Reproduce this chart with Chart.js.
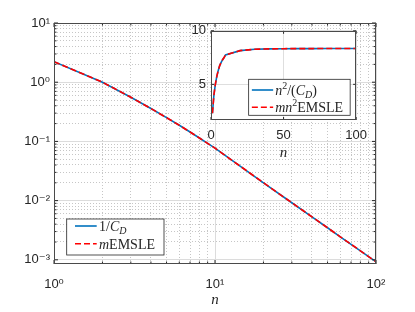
<!DOCTYPE html>
<html lang="en">
<head>
<meta charset="UTF-8">
<title>1/C_D vs mEMSLE</title>
<script src="https://cdn.jsdelivr.net/npm/chart.js"></script>
<style>
  body { margin: 0; background: #fff; }
  #wrap { position: relative; width: 415px; height: 312px; background: #fff; }
  #mainChart { position: absolute; left: 0; top: 0; }
  #insetChart { position: absolute; left: 180px; top: 18px; }
</style>
</head>
<body>
<div id="wrap">
  <canvas id="mainChart" width="415" height="312"></canvas>
  <canvas id="insetChart" width="195" height="147"></canvas>
</div>
<script>
  // n values used by both plots
  const nValues = [1, 2, 3, 4, 5, 6, 7, 8, 9, 10, 20, 30, 40, 50, 60, 70, 80, 90, 100];

  // main plot (log-log)
  const invCD   = [2.22, 1.0, 0.556, 0.359, 0.252, 0.1875, 0.144, 0.114, 0.0926, 0.077,
                   0.0200, 0.0092, 0.00533, 0.00348, 0.00245, 0.00183, 0.00142, 0.00113, 0.00093];
  const mEMSLE  = [2.22, 1.0, 0.556, 0.359, 0.252, 0.1875, 0.144, 0.114, 0.0926, 0.077,
                   0.0200, 0.0092, 0.00533, 0.00348, 0.00245, 0.00183, 0.00142, 0.00113, 0.00093];

  // inset (linear)
  const insetCD     = [2.3, 4.0, 5.0, 5.75, 6.3, 6.75, 7.05, 7.3, 7.5, 7.75,
                       8.15, 8.27, 8.31, 8.33, 8.34, 8.34, 8.35, 8.35, 8.35];
  const insetEMSLE  = [2.3, 4.0, 5.0, 5.75, 6.3, 6.75, 7.05, 7.3, 7.5, 7.75,
                       8.15, 8.27, 8.31, 8.33, 8.34, 8.34, 8.35, 8.35, 8.35];

  // ticks
  const xDecades = [0, 1, 2];
  const yDecades = [-3, -2, -1, 0, 1];
  const insetXTicks = [0, 50, 100];
  const insetYTicks = [5, 10];
  const supDigits = { '0': '⁰', '1': '¹', '2': '²', '3': '³', '-': '⁻' };

  const blue = '#0072BD';
  const red = '#FF0000';
  const axisColor = '#262626';
  const sansFont = "'Liberation Sans', 'DejaVu Sans', sans-serif";
  const serifFont = "'Liberation Serif', 'DejaVu Serif', serif";

  function logTicks(decades) {
    const out = [];
    decades.forEach((d, i) => {
      const last = i === decades.length - 1;
      for (let k = 1; k <= (last ? 1 : 9); k++) out.push(k * Math.pow(10, d));
    });
    return out;
  }

  function isDecade(v) {
    const e = Math.round(Math.log10(v));
    return Math.abs(v / Math.pow(10, e) - 1) < 1e-9;
  }

  function powLabel(v) {
    if (!isDecade(v)) return '';
    const e = String(Math.round(Math.log10(v)));
    return '10' + e.split('').map(c => supDigits[c]).join('');
  }

  function gridColor(c) {
    if (!c.tick) return '#dedede';
    return isDecade(c.tick.value) ? '#dcdcdc' : '#c6c6c6';
  }

  function gridDash(c) {
    if (!c.tick) return [];
    return isDecade(c.tick.value) ? [] : [1, 2];
  }

  // text with italic / super / subscript parts
  function drawRich(ctx, parts, x, y) {
    ctx.textBaseline = 'alphabetic';
    ctx.textAlign = 'left';
    ctx.fillStyle = axisColor;
    parts.forEach(p => {
      const small = p.s === 'sup' || p.s === 'sub';
      ctx.font = (p.i ? 'italic ' : '') + (small ? 10 : 14) + 'px ' + serifFont;
      let dy = 0;
      if (p.s === 'sup') dy = -6;
      if (p.s === 'sub') dy = 3;
      ctx.fillText(p.t, x, y + dy);
      x += ctx.measureText(p.t).width;
    });
  }

  function drawLegend(chart, box, rows) {
    const ctx = chart.ctx;
    ctx.save();
    ctx.fillStyle = '#fff';
    ctx.fillRect(box.x, box.y, box.w, box.h);
    ctx.strokeStyle = axisColor;
    ctx.lineWidth = 0.8;
    ctx.strokeRect(box.x, box.y, box.w, box.h);
    rows.forEach(r => {
      const ds = chart.data.datasets[r.ds];
      ctx.strokeStyle = ds.borderColor;
      ctx.lineWidth = ds.borderWidth;
      ctx.setLineDash(ds.borderDash || []);
      ctx.beginPath();
      ctx.moveTo(box.x + box.sx0, box.y + r.y);
      ctx.lineTo(box.x + box.sx1, box.y + r.y);
      ctx.stroke();
      ctx.setLineDash([]);
      drawRich(ctx, r.parts, box.x + box.tx, box.y + r.y + 5);
    });
    ctx.restore();
  }

  // box around plot area plus inward tick marks (matlab style)
  function drawBoxAndTicks(chart, majorLen, minorLen) {
    const ctx = chart.ctx;
    const a = chart.chartArea;
    const sx = chart.scales.x, sy = chart.scales.y;
    ctx.save();
    ctx.strokeStyle = axisColor;
    ctx.lineWidth = 1;
    ctx.beginPath();
    sx.ticks.forEach(t => {
      const px = sx.getPixelForValue(t.value);
      if (px < a.left - 0.5 || px > a.right + 0.5) return;
      const len = (sx.type !== 'logarithmic' || isDecade(t.value)) ? majorLen : minorLen;
      ctx.moveTo(px, a.bottom); ctx.lineTo(px, a.bottom - len);
      ctx.moveTo(px, a.top); ctx.lineTo(px, a.top + len);
    });
    sy.ticks.forEach(t => {
      const py = sy.getPixelForValue(t.value);
      if (py < a.top - 0.5 || py > a.bottom + 0.5) return;
      const len = (sy.type !== 'logarithmic' || isDecade(t.value)) ? majorLen : minorLen;
      ctx.moveTo(a.left, py); ctx.lineTo(a.left + len, py);
      ctx.moveTo(a.right, py); ctx.lineTo(a.right - len, py);
    });
    ctx.stroke();
    ctx.strokeStyle = '#4a4a4a';
    ctx.strokeRect(Math.round(a.left) + 0.5, Math.round(a.top) + 0.5,
                   Math.round(a.right - a.left) - 1, Math.round(a.bottom - a.top) - 1);
    ctx.restore();
  }

  function points(ys) {
    return nValues.map((n, i) => ({ x: n, y: ys[i] }));
  }

  const mainPlugin = {
    id: 'mainDecor',
    afterDraw(chart) {
      drawBoxAndTicks(chart, 4, 2.5);
      const a = chart.chartArea;
      drawLegend(chart, { x: a.left + 12.7, y: a.bottom - 45, w: 97.3, h: 36, sx0: 8.3, sx1: 30, tx: 32.3 }, [
        { ds: 0, y: 7, parts: [{ t: '1/' }, { t: 'C', i: true }, { t: 'D', i: true, s: 'sub' }] },
        { ds: 1, y: 24.7, parts: [{ t: 'm', i: true }, { t: 'EMSLE' }] }
      ]);
    }
  };

  const insetPlugin = {
    id: 'insetDecor',
    beforeDraw(chart) {
      const a = chart.chartArea;
      chart.ctx.save();
      chart.ctx.fillStyle = '#fff';
      chart.ctx.fillRect(a.left, a.top, a.right - a.left, a.bottom - a.top);
      chart.ctx.restore();
    },
    afterDraw(chart) {
      drawBoxAndTicks(chart, 3, 3);
      const a = chart.chartArea;
      drawLegend(chart, { x: a.right - 107.5, y: a.bottom - 40.7, w: 101.5, h: 36, sx0: 3.2, sx1: 24.5, tx: 26.5 }, [
        { ds: 0, y: 10.7, parts: [{ t: 'n', i: true }, { t: '2', s: 'sup' }, { t: '/(' },
                                  { t: 'C', i: true }, { t: 'D', i: true, s: 'sub' }, { t: ')' }] },
        { ds: 1, y: 28, parts: [{ t: 'mn', i: true }, { t: '2', s: 'sup' }, { t: 'EMSLE' }] }
      ]);
    }
  };

  const tickFont = { family: sansFont, size: 13 };
  const titleFont = { family: serifFont, size: 15, style: 'italic' };

  new Chart(document.getElementById('mainChart').getContext('2d'), {
    type: 'line',
    data: {
      datasets: [
        { label: '1/C_D', data: points(invCD), borderColor: blue, borderWidth: 1.6,
          pointRadius: 0, tension: 0, order: 1 },
        { label: 'mEMSLE', data: points(mEMSLE), borderColor: red, borderWidth: 1.6,
          borderDash: [6, 3], pointRadius: 0, tension: 0, order: 0 }
      ]
    },
    options: {
      responsive: false,
      animation: false,
      devicePixelRatio: 1,
      layout: { padding: { top: 23, right: 39, left: 0, bottom: 0 } },
      plugins: { legend: { display: false }, tooltip: { enabled: false } },
      scales: {
        x: {
          type: 'logarithmic', min: 1, max: 100,
          afterBuildTicks: s => { s.ticks = logTicks(xDecades).map(v => ({ value: v })); },
          afterFit: s => { s.height = 48; },
          grid: { drawTicks: false, color: gridColor, lineWidth: 1 },
          border: { display: false, dash: gridDash },
          ticks: { autoSkip: false, maxRotation: 0, padding: 13, color: axisColor, font: tickFont,
                   callback: v => powLabel(v) },
          title: { display: true, text: 'n', color: axisColor, font: titleFont, padding: { top: 0, bottom: 3 } }
        },
        y: {
          type: 'logarithmic', min: 8.5e-4, max: 10,
          afterBuildTicks: s => { s.ticks = logTicks(yDecades).map(v => ({ value: v })); },
          afterFit: s => { s.width = 54; },
          grid: { drawTicks: false, color: gridColor, lineWidth: 1 },
          border: { display: false, dash: gridDash },
          ticks: { autoSkip: false, padding: 4, color: axisColor, font: tickFont,
                   callback: v => powLabel(v) }
        }
      }
    },
    plugins: [mainPlugin]
  });

  new Chart(document.getElementById('insetChart').getContext('2d'), {
    type: 'line',
    data: {
      datasets: [
        { label: 'n^2/(C_D)', data: points(insetCD), borderColor: blue, borderWidth: 1.6,
          pointRadius: 0, tension: 0, order: 1 },
        { label: 'mn^2EMSLE', data: points(insetEMSLE), borderColor: red, borderWidth: 1.6,
          borderDash: [6, 3], pointRadius: 0, tension: 0, order: 0 }
      ]
    },
    options: {
      responsive: false,
      animation: false,
      devicePixelRatio: 1,
      layout: { padding: { top: 11.3, right: 15, left: 0, bottom: 0 } },
      plugins: { legend: { display: false }, tooltip: { enabled: false } },
      scales: {
        x: {
          type: 'linear', min: 0, max: 100,
          afterBuildTicks: s => { s.ticks = insetXTicks.map(v => ({ value: v })); },
          afterFit: s => { s.height = 45; },
          grid: { drawTicks: false, color: '#dedede' },
          border: { display: false },
          ticks: { autoSkip: false, maxRotation: 0, padding: 8, color: axisColor, font: tickFont },
          title: { display: true, text: 'n', color: axisColor, font: titleFont, padding: { top: 0, bottom: 3 } }
        },
        y: {
          type: 'linear', min: 1.67, max: 10,
          afterBuildTicks: s => { s.ticks = insetYTicks.map(v => ({ value: v })); },
          afterFit: s => { s.width = 31; },
          grid: { drawTicks: false, color: '#dedede' },
          border: { display: false },
          ticks: { autoSkip: false, padding: 5, color: axisColor, font: tickFont }
        }
      }
    },
    plugins: [insetPlugin]
  });
</script>
</body>
</html>
